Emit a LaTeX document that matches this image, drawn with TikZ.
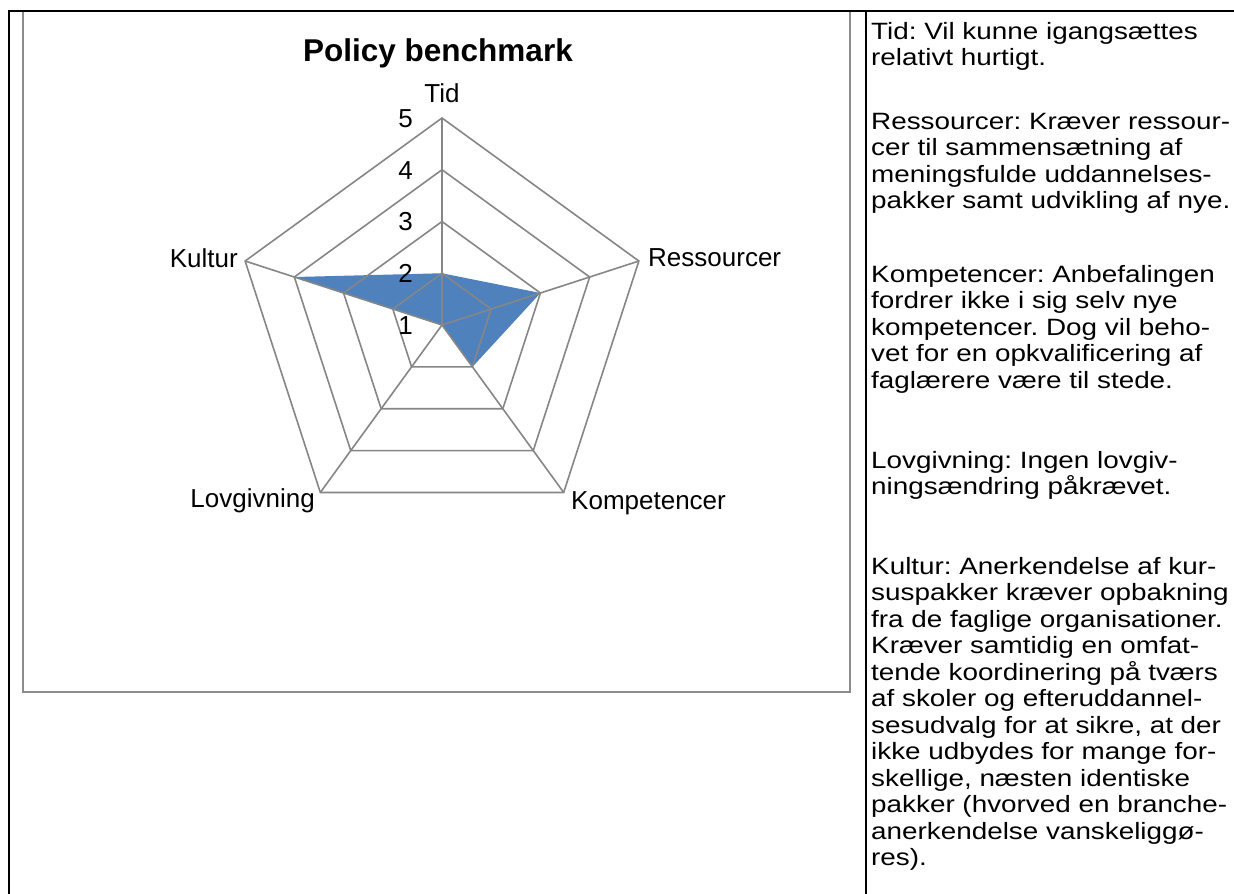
\documentclass[tikz,border=0pt]{standalone}
\usepackage{fontspec}
\setmainfont{Liberation Sans}
\newfontfamily\bodyfont{Liberation Sans}[FakeStretch=1.18]
\newcommand\mybodysetup{\bodyfont\fontsize{23.6}{26.5}\selectfont\frenchspacing\lineskiplimit=-100pt\relax}
\usetikzlibrary{calc}
\definecolor{gridgray}{HTML}{868686}
\definecolor{serieblue}{HTML}{4F81BD}
\definecolor{framegray}{HTML}{8C8C8C}
\begin{document}
\begin{tikzpicture}[x=1pt,y=-1pt,
  gridline/.style={draw=gridgray, line width=1.6pt},
  tableline/.style={draw=black, line width=2pt},
  framebox/.style={draw=framegray, line width=1.6pt},
  axislabel/.style={font=\fontsize{26}{30}\selectfont, inner sep=0pt},
  charttitle/.style={font=\fontsize{31.5}{36}\selectfont\bfseries, inner sep=0pt},
  bodytext/.style={font=\mybodysetup, align=left, inner sep=0pt, anchor=north west}
]
\useasboundingbox (0,0) rectangle (1234,894);
\fill[white] (0,0) rectangle (1234,894);

% chart frame
\draw[framebox] (23,11) rectangle (850,692);

% radar geometry
\coordinate (C) at (442,325);
\def\R{51.75}
\foreach \n/\a in {tid/-90, res/-18, kom/54, lov/126, kul/198}{
  \foreach \k in {2,3,4,5}{
    \coordinate (\n\k) at ($(C)+(\a:{(\k-1)*\R})$);
  }
}

% data series
\fill[serieblue] (tid2) -- (res3) -- (kom2) -- (C) -- (kul4) -- cycle;

% grid
\foreach \k in {2,3,4,5}{
  \draw[gridline] (tid\k) -- (res\k) -- (kom\k) -- (lov\k) -- (kul\k) -- cycle;
}
\foreach \n in {tid,res,kom,lov,kul}{
  \draw[gridline] (C) -- (\n5);
}

% title and labels
\node[charttitle, anchor=base] (title) at (438,61.7) {Policy benchmark};
\node[axislabel, anchor=base] (ltid) at (442,102.3) {Tid};
\node[axislabel, anchor=base west] (lres) at (648,266.3) {Ressourcer};
\node[axislabel, anchor=base west] (lkom) at (571,509.3) {Kompetencer};
\node[axislabel, anchor=base east] (llov) at (315,507.3) {Lovgivning};
\node[axislabel, anchor=base east] (lkul) at (238,267.3) {Kultur};
\node[axislabel, anchor=base east] (d5) at (413,127.3) {5};
\node[axislabel, anchor=base east] (d4) at (413,179.05) {4};
\node[axislabel, anchor=base east] (d3) at (413,230.8) {3};
\node[axislabel, anchor=base east] (d2) at (413,282.55) {2};
\node[axislabel, anchor=base east] (d1) at (413,334.3) {1};

% table lines
\draw[tableline] (9,894) -- (9,11) -- (1234,11);
\draw[tableline] (866,11) -- (866,894);

% notes column (first baselines at 39, 129, 282, 468, 574)
\node[bodytext] (ntid) at (871,19) {\rule{0pt}{20pt}Tid: Vil kunne igangsættes\\
relativt hurtigt.};
\node[bodytext] (nres) at (871,109) {\rule{0pt}{20pt}Ressourcer: Kræver ressour-\\
cer til sammensætning af\\
meningsfulde uddannelses-\\
pakker samt udvikling af nye.};
\node[bodytext] (nkom) at (871,262) {\rule{0pt}{20pt}Kompetencer: Anbefalingen\\
fordrer ikke i sig selv nye\\
kompetencer. Dog vil beho-\\
vet for en opkvalificering af\\
faglærere være til stede.};
\node[bodytext] (nlov) at (871,448) {\rule{0pt}{20pt}Lovgivning: Ingen lovgiv-\\
ningsændring påkrævet.};
\node[bodytext] (nkul) at (871,554) {\rule{0pt}{20pt}Kultur: Anerkendelse af kur-\\
suspakker kræver opbakning\\
fra de faglige organisationer.\\
Kræver samtidig en omfat-\\
tende koordinering på tværs\\
af skoler og efteruddannel-\\
sesudvalg for at sikre, at der\\
ikke udbydes for mange for-\\
skellige, næsten identiske\\
pakker (hvorved en branche-\\
anerkendelse vanskeliggø-\\
res).};
\end{tikzpicture}
\end{document}
